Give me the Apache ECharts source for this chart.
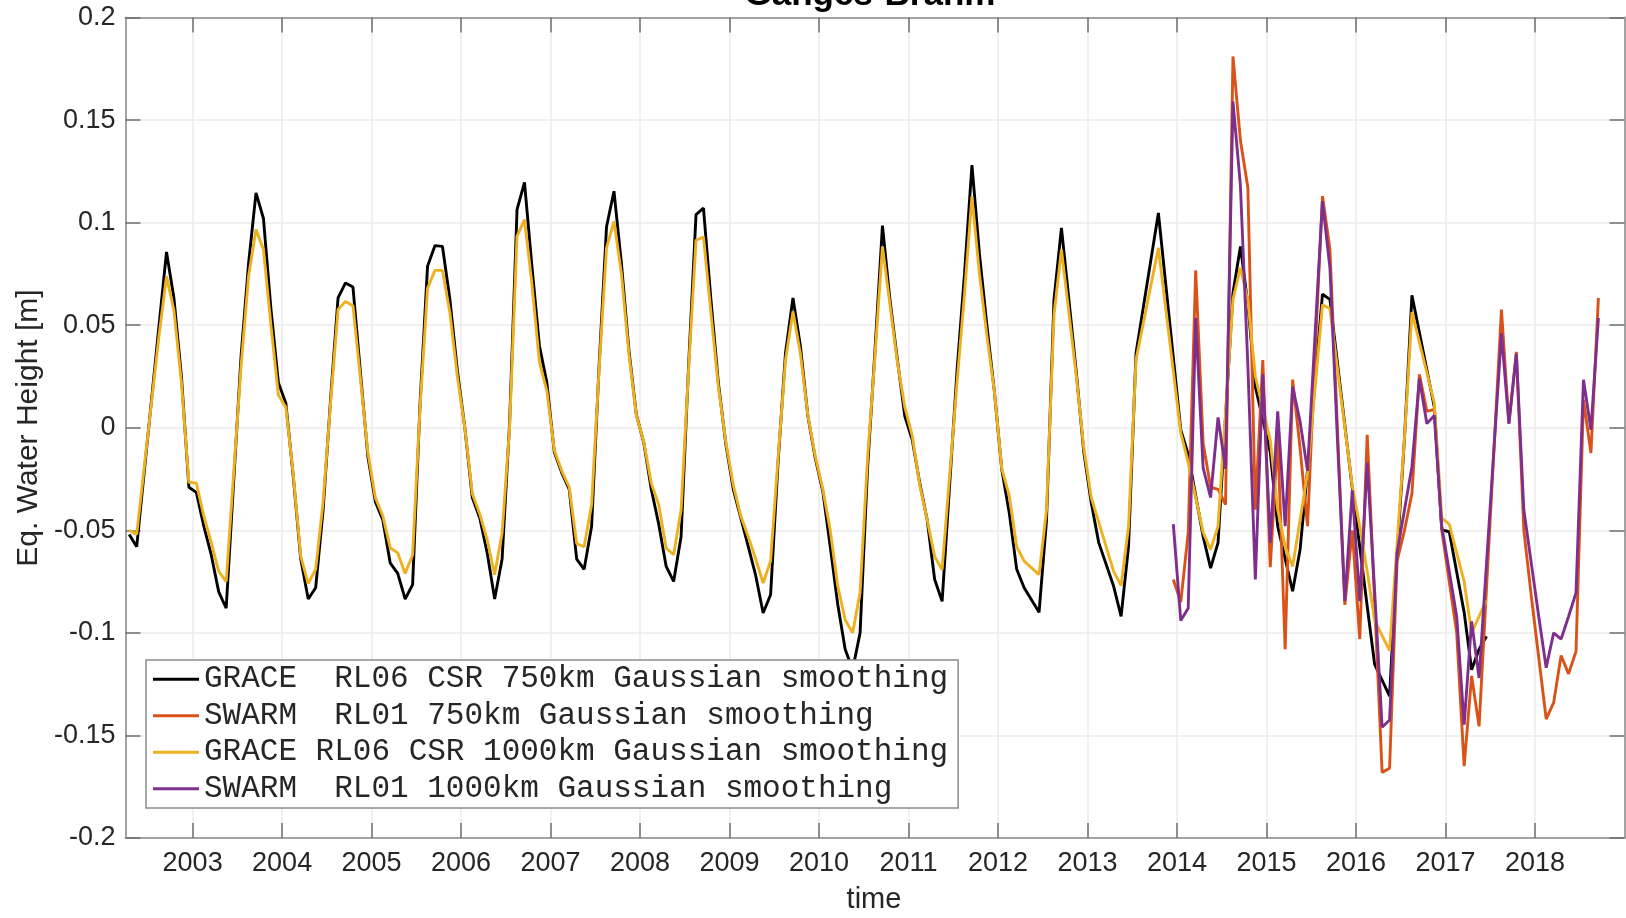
<!DOCTYPE html>
<html>
<head>
<meta charset="utf-8">
<script src="https://cdn.jsdelivr.net/npm/echarts@6/dist/echarts.min.js"></script>
<style>
html,body{margin:0;padding:0;background:#fff;}
#chart{width:1626px;height:918px;}
</style>
</head>
<body>
<div id="chart"></div>
<script>
// ---------------- data ----------------
const titleText = 'Ganges-Brahm';
const xAxisName = 'time';
const yAxisName = 'Eq. Water Height [m]';
const seriesNames = [
  'GRACE  RL06 CSR 750km Gaussian smoothing',
  'SWARM  RL01 750km Gaussian smoothing',
  'GRACE RL06 CSR 1000km Gaussian smoothing',
  'SWARM  RL01 1000km Gaussian smoothing'
];
const yearTicks = [2003,2004,2005,2006,2007,2008,2009,2010,2011,2012,2013,2014,2015,2016,2017,2018];
const yTickValues = [-0.2,-0.15,-0.1,-0.05,0,0.05,0.1,0.15,0.2];
const yTickLabels = ['-0.2','-0.15','-0.1','-0.05','0','0.05','0.1','0.15','0.2'];

const graceMonths = [
  '2002-04','2002-05','2002-08','2002-09','2002-10','2002-11','2002-12',
  '2003-01','2003-02','2003-03','2003-04','2003-05','2003-07','2003-08','2003-09','2003-10','2003-11','2003-12',
  '2004-01','2004-02','2004-03','2004-04','2004-05','2004-06','2004-07','2004-08','2004-09','2004-10','2004-11','2004-12',
  '2005-01','2005-02','2005-03','2005-04','2005-05','2005-06','2005-07','2005-08','2005-09','2005-10','2005-11','2005-12',
  '2006-01','2006-02','2006-03','2006-04','2006-05','2006-06','2006-07','2006-08','2006-09','2006-10','2006-11','2006-12',
  '2007-01','2007-02','2007-03','2007-04','2007-05','2007-06','2007-07','2007-08','2007-09','2007-10','2007-11','2007-12',
  '2008-01','2008-02','2008-03','2008-04','2008-05','2008-06','2008-07','2008-08','2008-09','2008-10','2008-11','2008-12',
  '2009-01','2009-02','2009-03','2009-04','2009-05','2009-06','2009-07','2009-08','2009-09','2009-10','2009-11','2009-12',
  '2010-01','2010-02','2010-03','2010-04','2010-05','2010-06','2010-07','2010-08','2010-09','2010-10','2010-11','2010-12',
  '2011-01','2011-02','2011-03','2011-04','2011-05','2011-07','2011-08','2011-09','2011-10','2011-11','2011-12',
  '2012-01','2012-02','2012-03','2012-04','2012-06','2012-07','2012-08','2012-09','2012-10','2012-11','2012-12',
  '2013-01','2013-02','2013-04','2013-05','2013-06','2013-07','2013-10',
  '2014-01','2014-02','2014-04','2014-05','2014-06','2014-08','2014-09','2014-10','2014-11',
  '2015-01','2015-02','2015-03','2015-04','2015-05','2015-06','2015-08','2015-09','2015-12',
  '2016-01','2016-02','2016-03','2016-05','2016-06','2016-07','2016-08','2016-11','2016-12',
  '2017-01','2017-03','2017-04','2017-05','2017-06'
];
const grace750 = [
  -0.052,-0.058,0.050,0.0857,0.063,0.025,-0.029,
  -0.0315,-0.048,-0.062,-0.080,-0.088,0.035,0.080,0.1145,0.102,0.058,0.022,
  0.012,-0.024,-0.064,-0.0835,-0.078,-0.040,0.014,0.0633,0.0706,0.0686,0.027,-0.014,
  -0.036,-0.045,-0.066,-0.071,-0.0835,-0.0765,0.012,0.0787,0.0888,0.0884,0.0625,0.028,
  0.000,-0.034,-0.044,-0.061,-0.0835,-0.064,0.002,0.1063,0.1196,0.0787,0.040,0.022,
  -0.012,-0.022,-0.030,-0.064,-0.069,-0.048,0.030,0.098,0.1153,0.080,0.038,0.0064,
  -0.0074,-0.030,-0.047,-0.0676,-0.0749,-0.053,0.030,0.1039,0.1071,0.0625,0.0218,-0.008,
  -0.030,-0.044,-0.0578,-0.072,-0.0903,-0.0814,-0.017,0.0365,0.0633,0.0397,0.0056,-0.015,
  -0.031,-0.058,-0.086,-0.108,-0.118,-0.100,-0.020,0.038,0.0985,0.0625,0.0332,0.0056,
  -0.006,-0.027,-0.045,-0.074,-0.0846,0.028,0.075,0.128,0.085,0.050,0.018,
  -0.0205,-0.0415,-0.069,-0.078,-0.090,-0.045,0.0625,0.0974,0.0625,0.0267,-0.012,
  -0.0367,-0.056,-0.0773,-0.092,-0.0578,0.0365,0.1047,
  -0.001,-0.013,-0.053,-0.0684,-0.056,0.0657,0.0884,0.060,0.020,
  -0.012,-0.048,-0.064,-0.0797,-0.0594,-0.0204,0.0651,0.0626,-0.0295,
  -0.058,-0.087,-0.1154,-0.1308,-0.062,-0.005,0.0646,0.010,-0.0498,
  -0.0507,-0.090,-0.118,-0.108,-0.1017
];
const grace1000 = [
  -0.050,-0.052,0.045,0.0738,0.057,0.022,-0.0266,
  -0.027,-0.043,-0.056,-0.070,-0.075,0.030,0.0738,0.0966,0.0868,0.050,0.016,
  0.010,-0.023,-0.0627,-0.076,-0.069,-0.036,0.012,0.0576,0.0616,0.0595,0.024,-0.012,
  -0.034,-0.043,-0.0586,-0.061,-0.071,-0.062,0.010,0.068,0.0767,0.0767,0.056,0.025,
  0.000,-0.032,-0.042,-0.0546,-0.0716,-0.0513,0.000,0.0933,0.1015,0.070,0.032,0.018,
  -0.011,-0.021,-0.029,-0.0565,-0.058,-0.0375,0.028,0.0877,0.1006,0.075,0.036,0.006,
  -0.007,-0.027,-0.0375,-0.0586,-0.0619,-0.040,0.028,0.0914,0.093,0.056,0.020,-0.007,
  -0.028,-0.043,-0.053,-0.064,-0.0757,-0.065,-0.015,0.033,0.0567,0.036,0.006,-0.014,
  -0.030,-0.050,-0.077,-0.0936,-0.100,-0.0805,-0.015,0.035,0.0884,0.060,0.032,0.010,
  -0.004,-0.028,-0.045,-0.0627,-0.0692,0.022,0.065,0.1128,0.075,0.045,0.018,
  -0.020,-0.033,-0.058,-0.065,-0.0716,-0.040,0.055,0.0868,0.056,0.025,-0.010,
  -0.034,-0.046,-0.070,-0.077,-0.048,0.0332,0.0877,
  -0.0025,-0.017,-0.051,-0.0594,-0.048,0.0625,0.078,0.062,0.025,
  -0.006,-0.040,-0.058,-0.0676,-0.045,-0.022,0.060,0.058,-0.0285,
  -0.048,-0.070,-0.094,-0.1087,-0.057,-0.005,0.0564,0.012,-0.044,
  -0.047,-0.075,-0.100,-0.092,-0.084
];

const swarmMonths = [
  '2013-12',
  '2014-01','2014-02','2014-03','2014-04','2014-05','2014-06','2014-07','2014-08','2014-09','2014-10','2014-11','2014-12',
  '2015-01','2015-02','2015-03','2015-04','2015-05','2015-06','2015-07','2015-08','2015-09','2015-10','2015-11','2015-12',
  '2016-01','2016-02','2016-03','2016-04','2016-05','2016-06','2016-07','2016-08','2016-09','2016-10','2016-11','2016-12',
  '2017-01','2017-02','2017-03','2017-04','2017-05','2017-08','2017-09','2017-10','2017-11','2017-12',
  '2018-01','2018-02','2018-03','2018-04','2018-05','2018-06','2018-07','2018-08','2018-09'
];
const swarm750 = [
  -0.074,
  -0.085,-0.051,0.0767,-0.0074,-0.029,-0.030,-0.0375,0.181,0.140,0.117,-0.040,0.033,
  -0.068,-0.004,-0.108,0.0235,-0.010,-0.048,0.035,0.113,0.087,0.000,-0.0864,-0.050,
  -0.103,-0.0034,-0.085,-0.168,-0.166,-0.065,-0.050,-0.032,0.026,0.008,0.009,-0.050,
  -0.075,-0.100,-0.165,-0.121,-0.1456,0.0576,0.002,0.037,-0.050,-0.082,
  -0.112,-0.142,-0.134,-0.111,-0.120,-0.109,0.0137,-0.0123,0.0633
];
const swarm1000 = [
  -0.047,
  -0.094,-0.088,0.0535,-0.0196,-0.034,0.005,-0.020,0.159,0.118,0.030,-0.074,0.026,
  -0.056,0.008,-0.048,0.020,0.003,-0.021,0.045,0.1105,0.078,-0.005,-0.0845,-0.0305,
  -0.0845,-0.017,-0.080,-0.146,-0.1425,-0.061,-0.040,-0.019,0.024,0.002,0.006,-0.048,
  -0.070,-0.092,-0.1447,-0.0944,-0.122,0.046,0.002,0.036,-0.040,-0.066,
  -0.092,-0.117,-0.100,-0.103,-0.092,-0.0805,0.0234,-0.001,0.0535
];

const seriesColors = ['#000000','#D95319','#EDB120','#7E2F8E'];

// ---------------- build ----------------
function monthToYear(s){ const p = s.split('-'); return Number(p[0]) + (Number(p[1]) - 0.5) / 12; }
function pairs(months, vals){ return months.map((m,i)=>[monthToYear(m), vals[i]]); }

const FONT = '"Liberation Sans", Arial, Helvetica, sans-serif';
const axisLineStyle = {color:'#a3a3a3', width:2};
const tickStyle = {color:'#6e6e6e', width:1.5};
const gridStyle = {color:'#ebebeb', width:1.5};
const X_MIN = 2002.25, X_MAX = 2019.0;

const chart = echarts.init(document.getElementById('chart'), null, {renderer:'canvas'});

function lineSeries(idx, data){
  return {
    name: seriesNames[idx], type:'line', data: data, symbol:'none', showSymbol:false,
    lineStyle:{color:seriesColors[idx], width:2.9}, itemStyle:{color:seriesColors[idx]},
    xAxisIndex:0, yAxisIndex:0, animation:false, emphasis:{disabled:true}
  };
}

chart.setOption({
  animation:false,
  backgroundColor:'#ffffff',
  grid:{left:125.5, right:1.5, top:17.5, bottom:80, outerBoundsMode:'none', containLabel:false},
  xAxis:[
    {type:'value', position:'bottom', min:X_MIN, max:X_MAX,
      axisLine:{show:true, onZero:false, lineStyle:axisLineStyle},
      axisTick:{show:true, inside:true, length:15, customValues:yearTicks, lineStyle:tickStyle},
      axisLabel:{show:true, customValues:yearTicks, margin:12, fontSize:27, fontFamily:FONT, color:'#262626',
        formatter:v=>String(Math.round(v))},
      splitLine:{show:true, lineStyle:gridStyle}},
    {type:'value', position:'top', min:X_MIN, max:X_MAX,
      axisLine:{show:true, onZero:false, lineStyle:axisLineStyle},
      axisTick:{show:true, inside:true, length:15, customValues:yearTicks, lineStyle:tickStyle},
      axisLabel:{show:false}, splitLine:{show:false}}
  ],
  yAxis:[
    {type:'value', position:'left', min:-0.2, max:0.2, interval:0.05,
      axisLine:{show:true, onZero:false, lineStyle:axisLineStyle},
      axisTick:{show:true, inside:true, length:15, lineStyle:tickStyle},
      axisLabel:{show:true, margin:10, fontSize:27, fontFamily:FONT, color:'#262626',
        formatter:v=>{ let k=-1; yTickValues.forEach((t,i)=>{ if(Math.abs(t-v)<1e-9) k=i; }); return k>=0?yTickLabels[k]:''; }},
      splitLine:{show:true, lineStyle:gridStyle}},
    {type:'value', position:'right', min:-0.2, max:0.2, interval:0.05,
      axisLine:{show:true, onZero:false, lineStyle:axisLineStyle},
      axisTick:{show:true, inside:true, length:15, lineStyle:tickStyle},
      axisLabel:{show:false}, splitLine:{show:false}}
  ],
  legend:{
    show:true, orient:'vertical', left:146, top:660,
    itemWidth:46, itemHeight:3, itemGap:0, icon:'rect',
    padding:[1,10,1,7], borderColor:'#8c8c8c', borderWidth:1.5, backgroundColor:'#ffffff',
    textStyle:{fontFamily:'"Liberation Mono", "Courier New", monospace', fontSize:31, lineHeight:36.5, color:'#262626'},
    selectedMode:false,
    data: seriesNames.map((n,i)=>({name:n, itemStyle:{color:seriesColors[i]}}))
  },
  graphic:[
    {type:'text', x:870, y:13, z:100,
      style:{text:titleText, font:'bold 35px '+FONT, fill:'#000', align:'center', verticalAlign:'bottom', textAlign:'center', textVerticalAlign:'bottom'}},
    {type:'text', x:874, y:900, z:100,
      style:{text:xAxisName, font:'29px '+FONT, fill:'#262626', align:'center', verticalAlign:'middle', textAlign:'center', textVerticalAlign:'middle'}},
    {type:'text', x:29, y:428, rotation:Math.PI/2, z:100,
      style:{text:yAxisName, font:'30px '+FONT, fill:'#262626', align:'center', verticalAlign:'middle', textAlign:'center', textVerticalAlign:'middle'}}
  ],
  series:[
    lineSeries(0, pairs(graceMonths, grace750)),
    lineSeries(1, pairs(swarmMonths, swarm750)),
    lineSeries(2, pairs(graceMonths, grace1000)),
    lineSeries(3, pairs(swarmMonths, swarm1000))
  ]
});
</script>
</body>
</html>
